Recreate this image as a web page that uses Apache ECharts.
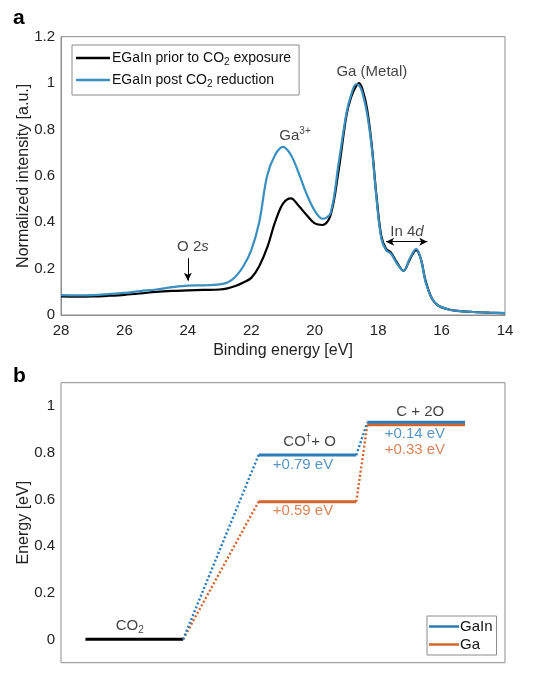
<!DOCTYPE html>
<html><head><meta charset="utf-8">
<script src="https://cdn.jsdelivr.net/npm/echarts@6/dist/echarts.min.js"></script>
<style>html,body{margin:0;padding:0;background:#fff}#c{width:553px;height:673px}</style>
</head><body><div id="c"></div>
<script>
// ---------- Panel a data ----------
const energies = [28,27.5,27,26.5,26,25.5,25,24.5,24,23.5,23,22.75,22.5,22.25,22,21.75,21.5,21.25,21,20.75,20.5,20.25,20,19.75,19.5,19.25,19,18.85,18.7,18.6,18.5,18.35,18.2,18.05,17.9,17.75,17.6,17.4,17.2,17.0,16.8,16.65,16.5,16.3,16.1,15.8,15.5,15,14.5,14];
const priorIntensity = [0.080,0.079,0.080,0.083,0.087,0.093,0.100,0.104,0.106,0.108,0.110,0.115,0.125,0.140,0.160,0.210,0.290,0.400,0.480,0.503,0.470,0.430,0.395,0.388,0.430,0.620,0.860,0.940,0.985,1.000,0.975,0.890,0.730,0.510,0.340,0.285,0.270,0.225,0.190,0.240,0.280,0.240,0.145,0.070,0.040,0.025,0.018,0.013,0.010,0.008];
const postIntensity = [0.086,0.085,0.086,0.090,0.095,0.103,0.110,0.120,0.127,0.128,0.132,0.140,0.165,0.210,0.280,0.400,0.600,0.690,0.725,0.690,0.610,0.520,0.450,0.415,0.440,0.650,0.870,0.950,0.995,0.990,0.960,0.870,0.720,0.500,0.330,0.280,0.265,0.220,0.190,0.245,0.285,0.240,0.140,0.070,0.040,0.025,0.018,0.013,0.010,0.008];
const xTicksA = [14,16,18,20,22,24,26,28];
const yTicksA = [0,0.2,0.4,0.6,0.8,1,1.2];

// ---------- Panel b data ----------
const steps = ['CO2','CO+O','C+2O'];
const levelStart = [0.55, 4.45, 6.9];
const levelEnd = [2.75, 6.65, 9.1];
const gainEnergy = [0, 0.79, 0.93];
const gaEnergy = [0, 0.59, 0.92];
const gainDelta = ['+0.79 eV','+0.14 eV'];
const gaDelta = ['+0.59 eV','+0.33 eV'];
const yTicksB = [0,0.2,0.4,0.6,0.8,1];

const FONT = 'Liberation Sans, Arial, Helvetica, sans-serif';
const BLUE_A = '#3a8fc0';
const BLUE = '#2c7bb6';
const ORANGE = '#d2642c';
const FRAME = '#8c8c8c';

const chart = echarts.init(document.getElementById('c'), null, {renderer:'canvas'});

const series = [];
series.push({name:'EGaIn prior to CO2 exposure', type:'line', xAxisIndex:0, yAxisIndex:0, showSymbol:false, symbol:'none', smooth:0.35,
  data: energies.map((e,i)=>[e, priorIntensity[i]]), lineStyle:{color:'#000', width:2.2}, itemStyle:{color:'#000'}, z:3,
  markLine:{silent:true, symbol:['none','arrow'], symbolSize:[6,8], label:{show:false}, lineStyle:{color:'#000', width:1, type:'solid'},
    data:[[{coord:[24,0.245]},{coord:[24,0.148]}]]}});
series.push({name:'EGaIn post CO2 reduction', type:'line', xAxisIndex:0, yAxisIndex:0, showSymbol:false, symbol:'none', smooth:0.35,
  data: energies.map((e,i)=>[e, postIntensity[i]]), lineStyle:{color:BLUE_A, width:2.2}, itemStyle:{color:BLUE_A}, z:4,
  markLine:{silent:true, symbol:['arrow','arrow'], symbolSize:[6,8], label:{show:false}, lineStyle:{color:'#000', width:1, type:'solid'},
    data:[[{coord:[17.75,0.316]},{coord:[16.45,0.316]}]]}});

// annotations panel a
const richA = {
  n:{fontFamily:FONT, fontSize:15, color:'#111'},
  sup:{fontFamily:FONT, fontSize:10, color:'#111', verticalAlign:'top', padding:[0,0,10,0]},
  it:{fontFamily:FONT, fontSize:15, color:'#111', fontStyle:'italic'}
};
series.push({type:'scatter', xAxisIndex:0, yAxisIndex:0, symbolSize:0, silent:true, z:10,
  label:{show:true, position:'inside', rich:richA},
  data:[
    {value:[18.2,1.047], label:{formatter:'{n|Ga (Metal)}'}},
    {value:[20.62,0.772], label:{formatter:'{n|Ga}{sup|3+}'}},
    {value:[23.84,0.294], label:{formatter:'{n|O 2}{it|s}'}},
    {value:[17.09,0.357], label:{formatter:'{n|In 4}{it|d}'}}
  ]});

// panel b
series.push({name:steps[0], type:'line', xAxisIndex:1, yAxisIndex:1, symbol:'none', data:[[levelStart[0],gainEnergy[0]],[levelEnd[0],gainEnergy[0]]], lineStyle:{color:'#000', width:3}, z:5});
function levelSeries(name, energy, color, z){
  for(let i=1;i<steps.length;i++){
    series.push({name:name, type:'line', xAxisIndex:1, yAxisIndex:1, symbol:'none', itemStyle:{color:color},
      data:[[levelStart[i],energy[i]],[levelEnd[i],energy[i]]], lineStyle:{color:color, width:3}, z:z});
    series.push({name:name+'-link', type:'line', xAxisIndex:1, yAxisIndex:1, symbol:'none',
      data:[[levelEnd[i-1],energy[i-1]],[levelStart[i],energy[i]]], lineStyle:{color:color, width:2.4, type:[2,2.2]}, z:z-1});
  }
}
levelSeries('Ga', gaEnergy, ORANGE, 4);
levelSeries('GaIn', gainEnergy, BLUE, 6);

const richB = {
  n:{fontFamily:FONT, fontSize:15, color:'#111'},
  sub:{fontFamily:FONT, fontSize:10, color:'#111', verticalAlign:'bottom', padding:[8,0,0,0]},
  sup:{fontFamily:FONT, fontSize:10, color:'#111', verticalAlign:'top', padding:[0,0,8,0]},
  b:{fontFamily:FONT, fontSize:15, color:BLUE},
  o:{fontFamily:FONT, fontSize:15, color:ORANGE}
};
series.push({type:'scatter', xAxisIndex:1, yAxisIndex:1, symbolSize:0, silent:true, z:10,
  label:{show:true, position:'inside', rich:richB},
  data:[
    {value:[1.55,0.058], label:{formatter:'{n|CO}{sub|2}'}},
    {value:[5.6,0.846], label:{formatter:'{n|CO}{sup|\u2020}{n|+ O}'}},
    {value:[5.45,0.749], label:{formatter:'{b|'+gainDelta[0]+'}'}},
    {value:[5.45,0.549], label:{formatter:'{o|'+gaDelta[0]+'}'}},
    {value:[8.09,0.975], label:{formatter:'{n|C + 2O}'}},
    {value:[7.97,0.881], label:{formatter:'{b|'+gainDelta[1]+'}'}},
    {value:[7.97,0.812], label:{formatter:'{o|'+gaDelta[1]+'}'}}
  ]});

const axisLabelStyle = {fontFamily:FONT, fontSize:15, color:'#222'};
const nameStyle = {fontFamily:FONT, fontSize:16, color:'#222'};

chart.setOption({
  animation:false,
  backgroundColor:'#fff',
  graphic:[
    {type:'text', left:13, top:8, style:{text:'a', font:'bold 21px '+FONT, fill:'#000'}},
    {type:'text', left:13, top:366, style:{text:'b', font:'bold 21px '+FONT, fill:'#000'}}
  ],
  grid:[
    {left:61, right:48, top:36.7, height:278.3, show:true, borderColor:FRAME, borderWidth:1, backgroundColor:'transparent'},
    {left:61, right:48, top:382.7, height:280, show:true, borderColor:FRAME, borderWidth:1, backgroundColor:'transparent'}
  ],
  xAxis:[
    {type:'value', gridIndex:0, min:14, max:28, interval:2, inverse:true,
      name:'Binding energy [eV]', nameLocation:'middle', nameGap:28, nameMoveOverlap:false, nameTextStyle:nameStyle,
      axisLine:{show:true, lineStyle:{color:FRAME}}, axisTick:{show:false}, splitLine:{show:false},
      axisLabel:Object.assign({margin:8, customValues:xTicksA}, axisLabelStyle)},
    {type:'value', gridIndex:1, min:0, max:10, axisLine:{show:false}, axisTick:{show:false}, axisLabel:{show:false}, splitLine:{show:false}}
  ],
  yAxis:[
    {type:'value', gridIndex:0, min:0, max:1.2, interval:0.2,
      name:'Normalized intensity [a.u.]', nameLocation:'middle', nameGap:29, nameMoveOverlap:false, nameTextStyle:nameStyle,
      axisLine:{show:true, lineStyle:{color:FRAME}}, axisTick:{show:false}, splitLine:{show:false},
      axisLabel:Object.assign({margin:6, customValues:yTicksA, formatter:v=>String(+v.toFixed(1))}, axisLabelStyle)},
    {type:'value', gridIndex:1, min:-0.1, max:1.1,
      name:'Energy [eV]', nameLocation:'middle', nameGap:29, nameMoveOverlap:false, nameTextStyle:nameStyle,
      axisLine:{show:false}, axisTick:{show:false}, splitLine:{show:false},
      axisLabel:Object.assign({margin:6, customValues:yTicksB, formatter:v=>String(+(+v).toFixed(1))}, axisLabelStyle)}
  ],
  legend:[
    {orient:'vertical', left:72, top:45, width:225, padding:[6,8,6,4], itemGap:6,
      borderColor:FRAME, borderWidth:1, backgroundColor:'#fff',
      icon:'rect', itemWidth:34, itemHeight:2.5,
      data:[{name:'EGaIn prior to CO2 exposure', itemStyle:{color:'#000'}}, {name:'EGaIn post CO2 reduction', itemStyle:{color:BLUE_A}}],
      formatter:n=>n.replace('CO2','CO{s|2}'),
      textStyle:{fontFamily:FONT, fontSize:14, color:'#111', padding:[0,0,0,-3], rich:{s:{fontFamily:FONT, fontSize:10, color:'#111', verticalAlign:'bottom', padding:[8,0,0,0]}}}},
    {orient:'vertical', left:427, top:616, padding:[3,4,3,2], itemGap:3,
      borderColor:FRAME, borderWidth:1, backgroundColor:'#fff',
      icon:'rect', itemWidth:30, itemHeight:2.5,
      data:[{name:'GaIn', itemStyle:{color:BLUE}}, {name:'Ga', itemStyle:{color:ORANGE}}],
      textStyle:{fontFamily:FONT, fontSize:15, color:'#111', padding:[0,0,0,-4]}}
  ],
  series:series
});
</script></body></html>
